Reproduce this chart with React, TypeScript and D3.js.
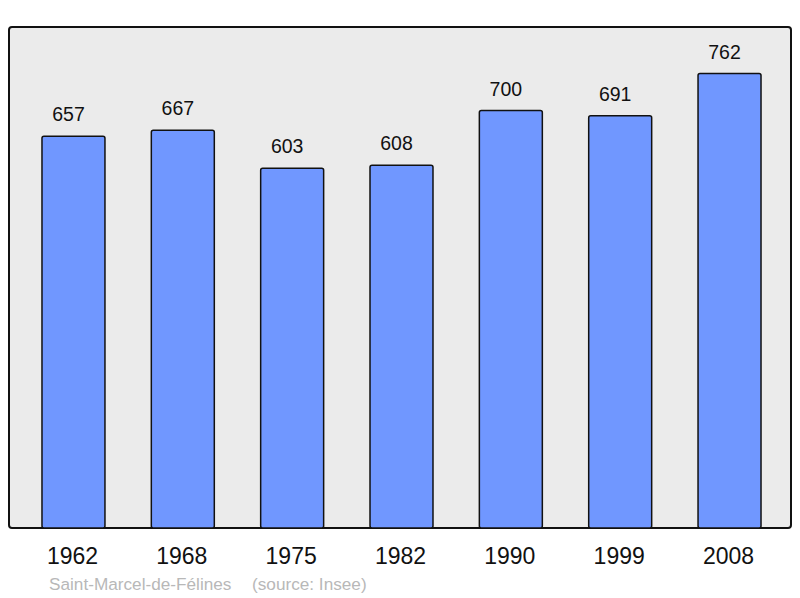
import * as d3 from 'd3';
import { useEffect, useRef } from 'react';

const years = ['1962', '1968', '1975', '1982', '1990', '1999', '2008'];
const population = [657, 667, 603, 608, 700, 691, 762];
const commune = 'Saint-Marcel-de-Félines';
const source = '(source: Insee)';

const W = 800;
const H = 598;
const frame = { left: 9, top: 27, right: 791, bottom: 528 };

export default function App() {
  const ref = useRef<SVGSVGElement>(null);

  useEffect(() => {
    const svg = d3.select(ref.current);
    svg.selectAll('*').remove();

    const x = d3
      .scaleBand()
      .domain(years)
      .range([18.8, 784.2])
      .paddingInner(0.424)
      .paddingOuter(0.212);

    const y = d3.scaleLinear().domain([0, 840]).range([frame.bottom, frame.top]);

    svg
      .append('rect')
      .attr('x', frame.left)
      .attr('y', frame.top)
      .attr('width', frame.right - frame.left)
      .attr('height', frame.bottom - frame.top)
      .attr('rx', 3)
      .style('fill', '#ebebeb')
      .style('stroke', '#111')
      .style('stroke-width', 2);

    const bars = years.map((yr, i) => ({ yr, v: population[i] }));

    svg
      .selectAll('.bar')
      .data(bars)
      .enter()
      .append('rect')
      .attr('x', (d) => x(d.yr)!)
      .attr('y', (d) => y(d.v))
      .attr('width', x.bandwidth())
      .attr('height', (d) => y(0) - y(d.v))
      .attr('rx', 2)
      .style('fill', '#7097ff')
      .style('stroke', '#111')
      .style('stroke-width', 1.5);

    // value labels sit a little left of the bar centre in the original
    svg
      .selectAll('.val')
      .data(bars)
      .enter()
      .append('text')
      .attr('x', (d) => x(d.yr)! + x.bandwidth() / 2 - 5)
      .attr('y', (d) => y(d.v) - 15)
      .attr('text-anchor', 'middle')
      .style('font-family', '"Liberation Sans", Arial, sans-serif')
      .style('font-size', '19.5px')
      .style('fill', '#111')
      .text((d) => d.v);

    svg
      .selectAll('.yr')
      .data(years)
      .enter()
      .append('text')
      .attr('x', (d) => x(d)! + x.bandwidth() / 2 - 1)
      .attr('y', 564)
      .attr('text-anchor', 'middle')
      .style('font-family', '"Liberation Sans", Arial, sans-serif')
      .style('font-size', '23px')
      .style('fill', '#111')
      .text((d) => d);

    svg
      .append('text')
      .attr('x', 49)
      .attr('y', 590)
      .style('font-family', '"Liberation Sans", Arial, sans-serif')
      .style('font-size', '17.2px')
      .style('fill', '#b8b8b8')
      .text(commune);

    svg
      .append('text')
      .attr('x', 252)
      .attr('y', 590)
      .style('font-family', '"Liberation Sans", Arial, sans-serif')
      .style('font-size', '17.2px')
      .style('fill', '#b8b8b8')
      .text(source);
  }, []);

  return (
    <svg
      ref={ref}
      width={W}
      height={H}
      style={{ position: 'absolute', left: 0, top: 0, background: '#fff' }}
    ></svg>
  );
}
